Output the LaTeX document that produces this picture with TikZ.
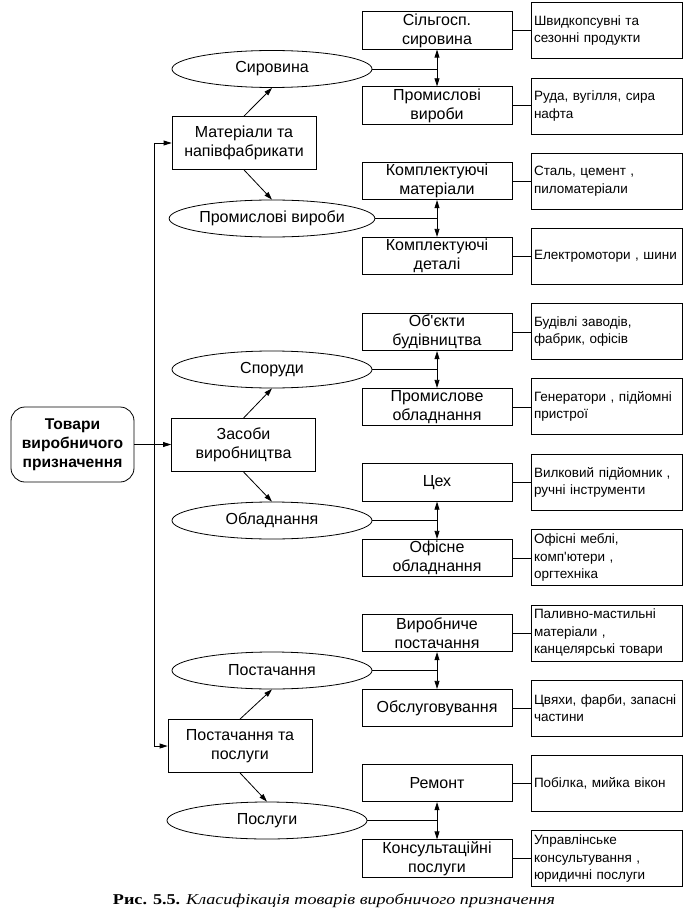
\documentclass[tikz,border=0pt]{standalone}
\usepackage{graphicx}
\usepackage{fontspec}
\setmainfont{Liberation Sans}
\newfontfamily\af{Liberation Sans}
\newfontfamily\capfont{Liberation Serif}
\usetikzlibrary{arrows.meta,shapes.geometric}
\begin{document}
\begin{tikzpicture}[x=1pt,y=-1pt,
  every node/.style={line width=0.8pt},
  midbox/.style={draw, minimum width=150pt, minimum height=37.5pt, inner sep=0pt, align=center, font=\af\fontsize{16}{19}\selectfont},
  ellnode/.style={draw, ellipse, minimum width=200pt, minimum height=37pt, inner sep=0pt, font=\af\fontsize{16}{19}\selectfont},
  leftbox/.style={draw, minimum width=144pt, minimum height=53pt, inner sep=0pt, align=center, font=\af\fontsize{16}{19}\selectfont},
  rbox/.style={draw, minimum height=56pt, text width=145pt, inner xsep=3pt, inner ysep=0pt, align=left, font=\af\fontsize{13.5}{17.5}\selectfont},
  rootbox/.style={draw, rounded corners=14pt, minimum width=123pt, minimum height=75pt, inner sep=0pt, align=center, font=\af\bfseries\fontsize{15.6}{19}\selectfont},
  conn/.style={line width=0.8pt},
  arr/.style={conn, -{Triangle[length=8pt,width=5pt]}},
  arrboth/.style={conn, {Triangle[length=8pt,width=5pt]}-{Triangle[length=8pt,width=5pt]}}
]
\useasboundingbox (0,0) rectangle (685,920);

% root
\node[rootbox] (T) at (72.5,444.5) {Товари\\виробничого\\призначення};

% left level
\node[leftbox] (L1) at (244,143) {Матеріали та\\напівфабрикати};
\node[leftbox] (L2) at (243.5,445) {Засоби\\виробництва};
\node[leftbox] (L3) at (240,746) {Постачання та\\послуги};

% ellipses
\node[ellnode] (e1) at (272,69) {Сировина};
\node[ellnode] (e2) at (272,218.5) {Промислові вироби};
\node[ellnode] (e3) at (272,369.5) {Споруди};
\node[ellnode] (e4) at (272,520.5) {Обладнання};
\node[ellnode] (e5) at (272,670.5) {Постачання};
\node[ellnode] (e6) at (267,820.5) {Послуги};

% middle boxes
\node[midbox] (m1) at (437,30.5) {Сільгосп.\\сировина};
\node[midbox] (m2) at (437,105.5) {Промислові\\вироби};
\node[midbox] (m3) at (437,181) {Комплектуючі\\матеріали};
\node[midbox] (m4) at (437,256) {Комплектуючі\\деталі};
\node[midbox] (m5) at (437,332) {Об'єкти\\будівництва};
\node[midbox] (m6) at (437,407) {Промислове\\обладнання};
\node[midbox] (m7) at (437,482.5) {Цех};
\node[midbox] (m8) at (437,558) {Офісне\\обладнання};
\node[midbox] (m9) at (437,633) {Виробниче\\постачання};
\node[midbox] (m10) at (437,708) {Обслуговування};
\node[midbox] (m11) at (437,783) {Ремонт};
\node[midbox] (m12) at (437,858.5) {Консультаційні\\послуги};

% right boxes
\node[rbox] (r1) at (606.5,30.4) {Швидкопсувні та\\сезонні продукти};
\node[rbox] (r2) at (606.5,106) {Руда, вугілля, сира\\нафта};
\node[rbox] (r3) at (606.5,181) {Сталь, цемент ,\\пиломатеріали};
\node[rbox] (r4) at (606.5,256) {Електромотори , шини};
\node[rbox] (r5) at (606.5,331.5) {Будівлі заводів,\\фабрик, офісів};
\node[rbox] (r6) at (606.5,406.5) {Генератори , підйомні\\пристрої};
\node[rbox] (r7) at (606.5,482.5) {Вилковий підйомник ,\\ручні інструменти};
\node[rbox] (r8) at (606.5,557.5) {Офісні меблі,\\комп'ютери ,\\оргтехніка};
\node[rbox] (r9) at (606.5,633) {Паливно-мастильні\\матеріали ,\\канцелярські товари};
\node[rbox] (r10) at (606.5,708) {Цвяхи, фарби, запасні\\частини};
\node[rbox] (r11) at (606.5,783.5) {Побілка, мийка вікон};
\node[rbox] (r12) at (606.5,858.5) {Управлінське\\консультування ,\\юридичні послуги};

% trunk
\coordinate (t1) at (154,143);
\coordinate (t2) at (154,746);
\draw[conn] (t1) -- (t2);
\draw[arr] (t1) -- (L1.west);
\draw[arr] (t2) -- (L3.west);
\draw[arr] (T.east) -- (T.east -| L2.west);

% left boxes to ellipses
\foreach \l/\a/\b in {L1/e1/e2, L2/e3/e4, L3/e5/e6}{
  \draw[arr] (\l.north) -- (\a.south);
  \draw[arr] (\l.south) -- (\b.north);
}

% ellipses to middle pairs
\foreach \e/\p/\q in {e1/m1/m2, e2/m3/m4, e3/m5/m6, e4/m7/m8, e5/m9/m10, e6/m11/m12}{
  \draw[arrboth] (\p.south) -- (\q.north);
  \draw[conn] (\e.east) -- (\e.east -| \p.south);
}

% middle to right
\foreach \m/\r in {m1/r1, m2/r2, m3/r3, m4/r4, m5/r5, m6/r6, m7/r7, m8/r8, m9/r9, m10/r10, m11/r11, m12/r12}{
  \draw[conn] (\m.east) -- (\m.east -| \r.west);
}

% caption
\node[inner sep=0pt] (cap) at (334,901) {\resizebox{442pt}{\height}{\capfont\fontsize{15}{18}\selectfont\textbf{Рис. 5.5.} \textit{Класифікація товарів виробничого призначення}}};
\end{tikzpicture}
\end{document}
